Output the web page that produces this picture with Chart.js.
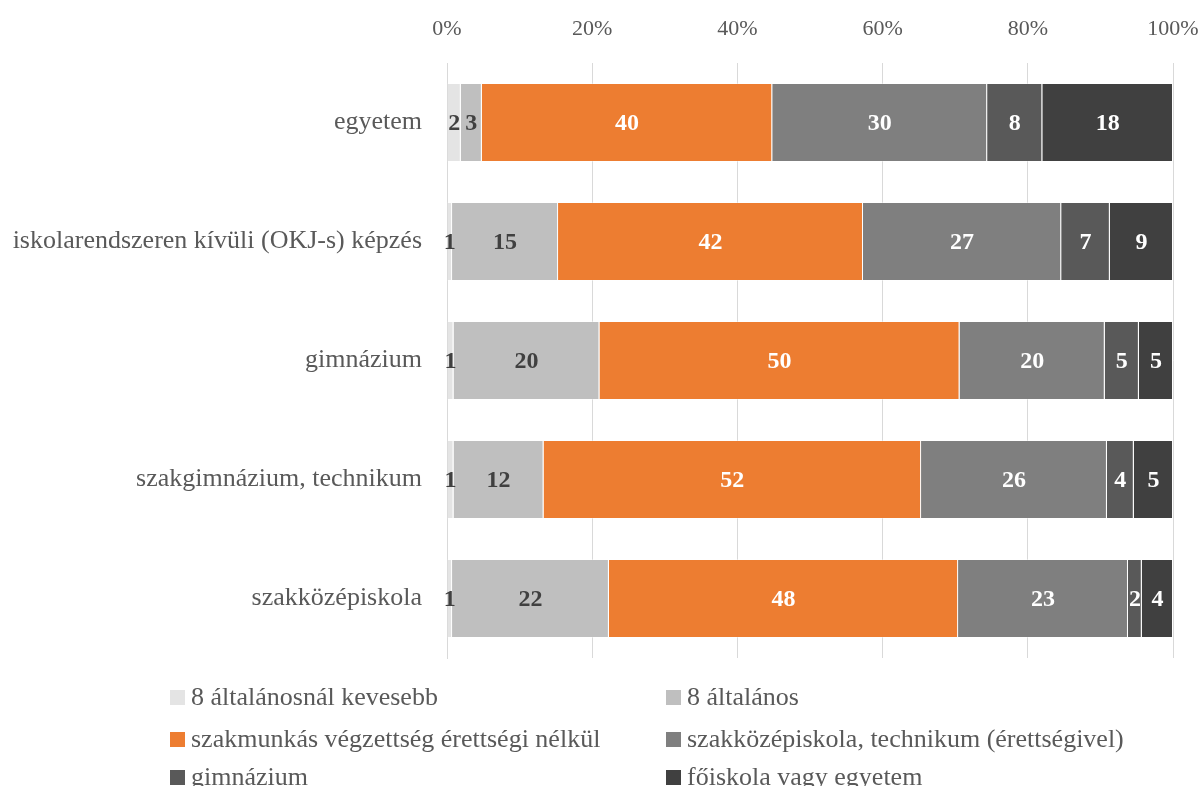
<!DOCTYPE html>
<html>
<head>
<meta charset="utf-8">
<script src="https://cdn.jsdelivr.net/npm/chart.js@4"></script>
<style>
  html, body { margin: 0; padding: 0; background: #fff; }
  #wrap { width: 1204px; height: 786px; position: relative; }
</style>
</head>
<body>
<div id="wrap"><canvas id="chart"></canvas></div>
<script>
// categories (top to bottom)
const categories = [
    "egyetem",
    "iskolarendszeren kívüli (OKJ-s) képzés",
    "gimnázium",
    "szakgimnázium, technikum",
    "szakközépiskola"
];

// series names
const seriesNames = [
    "8 általánosnál kevesebb",
    "8 általános",
    "szakmunkás végzettség érettségi nélkül",
    "szakközépiskola, technikum (érettségivel)",
    "gimnázium",
    "főiskola vagy egyetem"
];

// shares in percent, one array per series
const lessThan8 = [1.9, 0.7, 0.9, 0.9, 0.7];
const general8 = [2.9, 14.6, 20.1, 12.4, 21.6];
const skilledWorker = [40.0, 42.0, 49.6, 52.0, 48.1];
const vocationalSecondary = [29.6, 27.3, 20.0, 25.6, 23.4];
const grammarSchool = [7.6, 6.7, 4.7, 3.7, 1.9];
const college = [18.0, 8.7, 4.7, 5.4, 4.3];

const xTicks = [0, 20, 40, 60, 80, 100];

const seriesValues = [lessThan8, general8, skilledWorker, vocationalSecondary, grammarSchool, college];
const seriesColors = ["#e4e4e4", "#bfbfbf", "#ed7d31", "#7f7f7f", "#595959", "#404040"];
const labelColors = ["#404040", "#404040", "#ffffff", "#ffffff", "#ffffff", "#ffffff"];

const FONT = "'Liberation Serif', 'Times New Roman', serif";

// value labels in the middle of every segment
const segmentLabels = {
    id: "segmentLabels",
    afterDatasetsDraw(chart) {
        const ctx = chart.ctx;
        ctx.save();
        ctx.font = "bold 24px " + FONT;
        ctx.textAlign = "center";
        ctx.textBaseline = "middle";
        chart.data.datasets.forEach((ds, i) => {
            const meta = chart.getDatasetMeta(i);
            meta.data.forEach((bar, j) => {
                const cx = (bar.x + bar.base) / 2;
                ctx.fillStyle = labelColors[i];
                ctx.fillText(String(Math.round(ds.data[j])), cx, bar.y + 1);
            });
        });
        ctx.restore();
    }
};

// two-column legend under the plot
const twoColLegend = {
    id: "twoColLegend",
    afterDraw(chart) {
        const ctx = chart.ctx;
        const colX = [170, 666];
        const rowY = [697, 739, 777];
        ctx.save();
        ctx.font = "26px " + FONT;
        ctx.textBaseline = "middle";
        ctx.textAlign = "left";
        chart.data.datasets.forEach((ds, i) => {
            const x = colX[i % 2];
            const y = rowY[Math.floor(i / 2)];
            ctx.fillStyle = ds.backgroundColor;
            ctx.fillRect(x, y - 7, 15, 15);
            ctx.fillStyle = "#595959";
            ctx.fillText(ds.label, x + 21, y + 1);
        });
        ctx.restore();
    }
};

const datasets = seriesNames.map((name, i) => ({
    label: name,
    data: seriesValues[i],
    backgroundColor: seriesColors[i],
    borderColor: "rgba(255,255,255,0.35)",
    borderWidth: 1,
    barPercentage: 0.664,
    categoryPercentage: 1.0
}));

new Chart(document.getElementById("chart"), {
    type: "bar",
    data: { labels: categories, datasets: datasets },
    options: {
        indexAxis: "y",
        responsive: true,
        maintainAspectRatio: false,
        animation: false,
        layout: { padding: { top: 0, right: 31, bottom: 128, left: 0 } },
        plugins: {
            legend: { display: false },
            tooltip: { enabled: false }
        },
        scales: {
            x: {
                position: "top",
                stacked: true,
                min: 0,
                max: 100,
                afterBuildTicks(scale) {
                    scale.ticks = xTicks.map(v => ({ value: v }));
                },
                afterFit(scale) {
                    scale.height = 63;
                    scale.paddingLeft = 0;
                    scale.paddingRight = 0;
                },
                grid: { color: "#d9d9d9", drawTicks: false },
                border: { display: false },
                ticks: {
                    padding: 21,
                    color: "#595959",
                    font: { family: FONT, size: 22 },
                    callback: v => v + "%"
                }
            },
            y: {
                stacked: true,
                afterFit(scale) { scale.width = 447; },
                grid: { display: false, drawTicks: false },
                border: { display: true, color: "#d9d9d9" },
                ticks: {
                    padding: 25,
                    color: "#595959",
                    font: { family: FONT, size: 26 }
                }
            }
        }
    },
    plugins: [segmentLabels, twoColLegend]
});
</script>
</body>
</html>
